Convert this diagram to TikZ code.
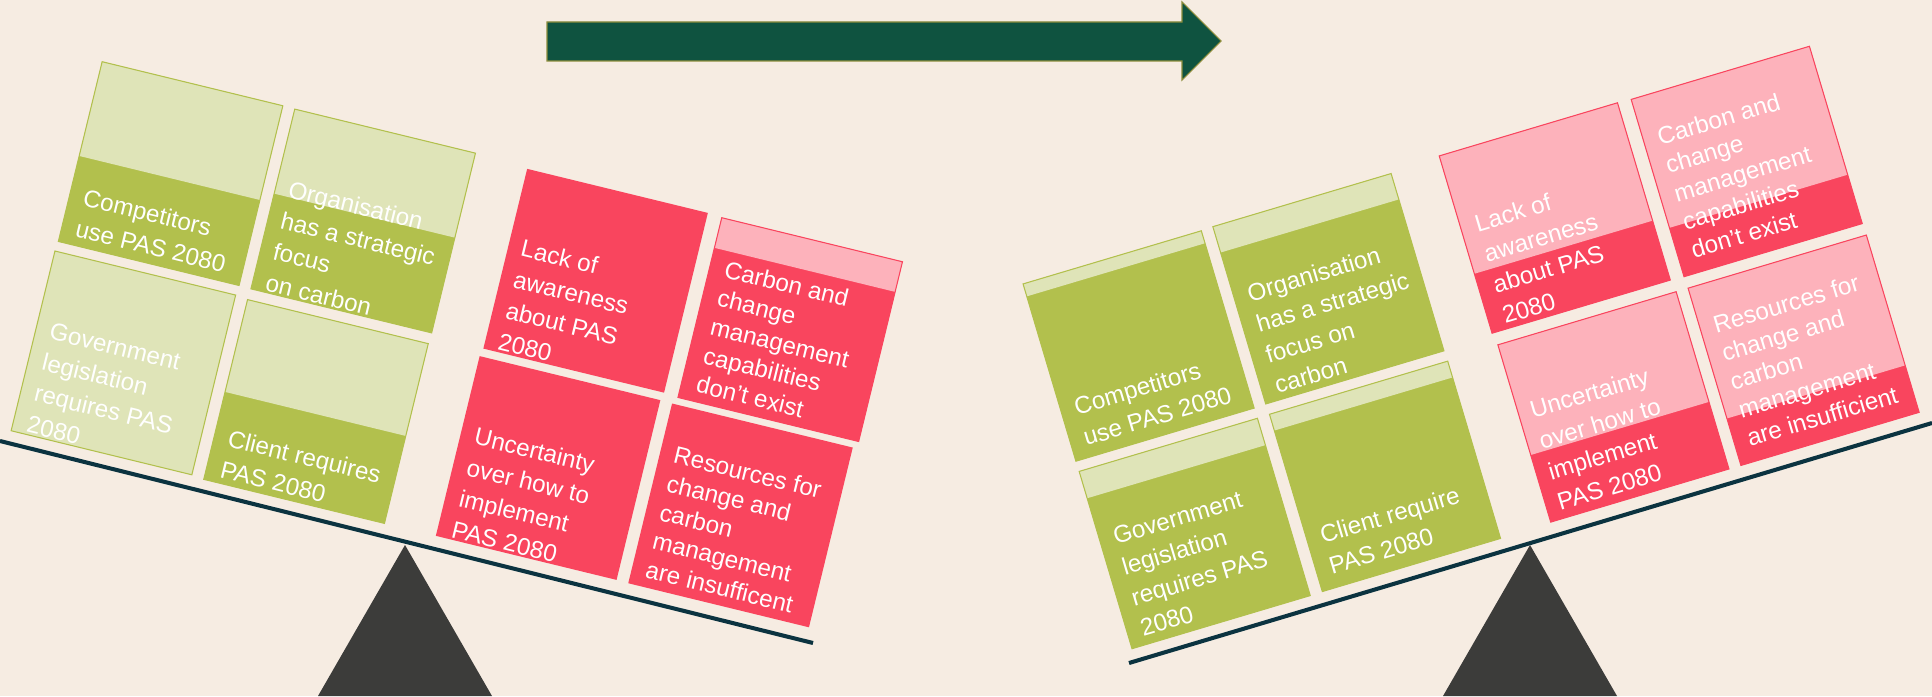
\documentclass[tikz,border=0pt]{standalone}
\usepackage{fontspec}
\setmainfont{Liberation Sans}
\definecolor{bgbeige}{HTML}{F6ECE2}
\definecolor{cardgreen}{HTML}{B2C04D}
\definecolor{lightgreen}{HTML}{DFE4B8}
\definecolor{cardred}{HTML}{F9455E}
\definecolor{cardpink}{HTML}{FDB2BB}
\definecolor{arrowgreen}{HTML}{0F5340}
\definecolor{arrowedge}{HTML}{8C8C3C}
\definecolor{beamblue}{HTML}{0B3340}
\definecolor{fulcgrey}{HTML}{3C3C3A}
\tikzset{
  cardtext/.style={anchor=north west, align=left, text=white, inner sep=0pt,
    transform shape, font=\fontsize{13.8}{18.2}\selectfont},
  fivelines/.style={font=\fontsize{13.8}{16.8}\selectfont},
  greenedge/.style={draw=cardgreen, line width=0.6pt},
  rededge/.style={draw=cardred, line width=0.6pt},
  beam/.style={draw=beamblue, line width=2.3pt},
}

\begin{document}
\begin{tikzpicture}[x=0.02cm, y=-0.02cm]
\fill[bgbeige] (0,0) rectangle (1932,696);
\useasboundingbox (0,0) rectangle (1932,696);

% arrow
\filldraw[fill=arrowgreen, draw=arrowedge, line width=0.6pt] (547,22) -- (1182,22) -- (1182,2) -- (1221,41) -- (1182,80) -- (1182,61) -- (547,61) -- cycle;

% seesaws
\fill[fulcgrey] (405,545) -- (492,696) -- (318,696) -- cycle;
\draw[beam] (0,441) -- (813,643);
\fill[fulcgrey] (1530,545) -- (1617,696) -- (1443,696) -- cycle;
\draw[beam] (1129,663) -- (1932,423);

% left cards
\begin{scope}[shift={(170.6,173.6)}, rotate=-13.7]
  \fill[cardgreen] (-93,-92.5) rectangle (93,92.5);
  \fill[lightgreen] (-93,-92.5) rectangle (93,4.5);
  \draw[greenedge] (-93,-92.5) rectangle (93,92.5);
  \node[cardtext] (competl) at (-79,34) {Competitors\\use PAS 2080};
\end{scope}
\begin{scope}[shift={(363.2,221)}, rotate=-13.7]
  \fill[cardgreen] (-93,-92.5) rectangle (93,92.5);
  \fill[lightgreen] (-93,-92.5) rectangle (93,-5.5);
  \draw[greenedge] (-93,-92.5) rectangle (93,92.5);
  \node[cardtext] (organl) at (-80,-23) {Organisation\\has a strategic\\focus\\on carbon};
\end{scope}
\begin{scope}[shift={(123.4,362.9)}, rotate=-13.7]
  \fill[lightgreen] (-93,-92.5) rectangle (93,92.5);
  \draw[greenedge] (-93,-92.5) rectangle (93,92.5);
  \node[cardtext] (govl) at (-79,-23) {Government\\legislation\\requires PAS\\2080};
\end{scope}
\begin{scope}[shift={(316,411.5)}, rotate=-13.7]
  \fill[cardgreen] (-93,-92.5) rectangle (93,92.5);
  \fill[lightgreen] (-93,-92.5) rectangle (93,2.5);
  \draw[greenedge] (-93,-92.5) rectangle (93,92.5);
  \node[cardtext] (clientl) at (-79,37) {Client requires\\PAS 2080};
\end{scope}
\begin{scope}[shift={(595.6,280.75)}, rotate=-13.7]
  \fill[cardred] (-93,-92.5) rectangle (93,92.5);
  \node[cardtext] (lackl) at (-80,-24) {Lack of\\awareness\\about PAS\\2080};
\end{scope}
\begin{scope}[shift={(790.2,329.6)}, rotate=-13.7]
  \fill[cardred] (-93,-92.5) rectangle (93,92.5);
  \fill[cardpink] (-93,-92.5) rectangle (93,-61.5);
  \draw[rededge] (-93,-92.5) rectangle (93,92.5);
  \node[cardtext, fivelines] (capabl) at (-78,-53) {Carbon and\\change\\management\\capabilities\\don’t exist};
\end{scope}
\begin{scope}[shift={(548.1,468)}, rotate=-13.7]
  \fill[cardred] (-93,-92.5) rectangle (93,92.5);
  \node[cardtext] (uncertl) at (-79,-23.5) {Uncertainty\\over how to\\implement\\PAS 2080};
\end{scope}
\begin{scope}[shift={(740.5,515.4)}, rotate=-13.7]
  \fill[cardred] (-93,-92.5) rectangle (93,92.5);
  \node[cardtext, fivelines] (resourl) at (-79,-53) {Resources for\\change and\\carbon\\management\\are insufficent};
\end{scope}

% right cards
\begin{scope}[shift={(1138.6,346)}, rotate=16.6]
  \fill[cardgreen] (-93,-92.5) rectangle (93,92.5);
  \fill[lightgreen] (-93,-92.5) rectangle (93,-79.5);
  \draw[greenedge] (-93,-92.5) rectangle (93,92.5);
  \node[cardtext] (competr) at (-79,31) {Competitors\\use PAS 2080};
\end{scope}
\begin{scope}[shift={(1328.4,288.75)}, rotate=16.6]
  \fill[cardgreen] (-93,-92.5) rectangle (93,92.5);
  \fill[lightgreen] (-93,-92.5) rectangle (93,-65.5);
  \draw[greenedge] (-93,-92.5) rectangle (93,92.5);
  \node[cardtext] (organr) at (-79,-27.5) {Organisation\\has a strategic\\focus on\\carbon};
\end{scope}
\begin{scope}[shift={(1194.7,533.5)}, rotate=16.6]
  \fill[cardgreen] (-93,-92.5) rectangle (93,92.5);
  \fill[lightgreen] (-93,-92.5) rectangle (93,-64.5);
  \draw[greenedge] (-93,-92.5) rectangle (93,92.5);
  \node[cardtext] (govr) at (-79,-29) {Government\\legislation\\requires PAS\\2080};
\end{scope}
\begin{scope}[shift={(1385,476.35)}, rotate=16.6]
  \fill[cardgreen] (-93,-92.5) rectangle (93,92.5);
  \fill[lightgreen] (-93,-92.5) rectangle (93,-75.5);
  \draw[greenedge] (-93,-92.5) rectangle (93,92.5);
  \node[cardtext] (clientr) at (-79,29) {Client require\\PAS 2080};
\end{scope}
\begin{scope}[shift={(1554.75,218)}, rotate=16.6]
  \fill[cardred] (-93,-92.5) rectangle (93,92.5);
  \fill[cardpink] (-93,-92.5) rectangle (93,30.5);
  \draw[rededge] (-93,-92.5) rectangle (93,92.5);
  \node[cardtext] (lackr) at (-78,-26.4) {Lack of\\awareness\\about PAS\\2080};
\end{scope}
\begin{scope}[shift={(1746.7,161.5)}, rotate=16.6]
  \fill[cardred] (-93,-92.5) rectangle (93,92.5);
  \fill[cardpink] (-93,-92.5) rectangle (93,41.5);
  \draw[rededge] (-93,-92.5) rectangle (93,92.5);
  \node[cardtext, fivelines] (capabr) at (-78.6,-58) {Carbon and\\change\\management\\capabilities\\don’t exist};
\end{scope}
\begin{scope}[shift={(1613.4,406.9)}, rotate=16.6]
  \fill[cardred] (-93,-92.5) rectangle (93,92.5);
  \fill[cardpink] (-93,-92.5) rectangle (93,22.5);
  \draw[rededge] (-93,-92.5) rectangle (93,92.5);
  \node[cardtext] (uncertr) at (-80.8,-29.5) {Uncertainty\\over how to\\implement\\PAS 2080};
\end{scope}
\begin{scope}[shift={(1803.6,350.25)}, rotate=16.6]
  \fill[cardred] (-93,-92.5) rectangle (93,92.5);
  \fill[cardpink] (-93,-92.5) rectangle (93,43.5);
  \draw[rededge] (-93,-92.5) rectangle (93,92.5);
  \node[cardtext, fivelines] (resourr) at (-79.3,-58.7) {Resources for\\change and\\carbon\\management\\are insufficient};
\end{scope}
\end{tikzpicture}
\end{document}
